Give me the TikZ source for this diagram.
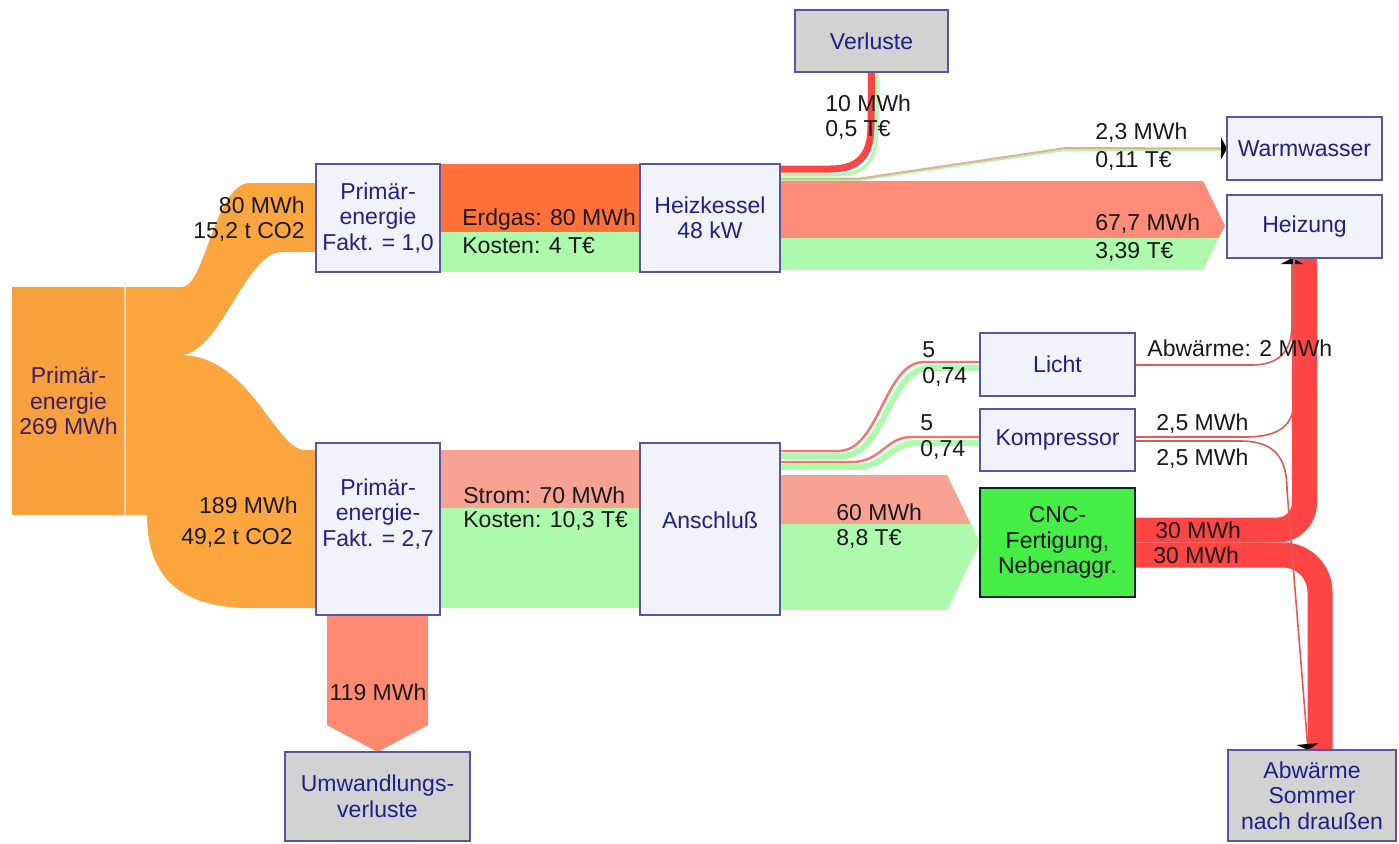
\documentclass[tikz,border=0pt]{standalone}
\usepackage{fontspec}
\setmainfont{Liberation Sans}
\usetikzlibrary{positioning,calc,arrows.meta,backgrounds}

\definecolor{boxfill}{HTML}{F2F2FA}
\definecolor{boxline}{HTML}{5656A2}
\definecolor{boxtext}{HTML}{20208A}
\definecolor{srctext}{HTML}{3E1E5E}
\definecolor{prim}{HTML}{FBA63E}
\definecolor{primbox}{HTML}{F7A03E}
\definecolor{gas}{HTML}{FF703A}
\definecolor{cost}{HTML}{ADFAAD}
\definecolor{strom}{HTML}{F8A294}
\definecolor{heat}{HTML}{FF8C78}
\definecolor{wandel}{HTML}{FF8A72}
\definecolor{hot}{HTML}{FF4444}
\definecolor{abwline}{HTML}{E25A55}
\definecolor{wwline}{HTML}{DDB098}
\definecolor{grau}{HTML}{D2D2D2}
\definecolor{cncgreen}{HTML}{44EE44}

\begin{document}
\begin{tikzpicture}[x=0.5pt, y=-0.5pt, font=\fontsize{11.5}{12.75}\selectfont,
	box/.style={rectangle,draw=boxline,line width=1.2pt,fill=boxfill,text=boxtext,align=center,inner sep=0pt,outer sep=0pt},
	sink/.style={box,fill=grau},
	lab/.style={anchor=west,inner sep=0pt,text=black!90},
	rlab/.style={anchor=east,inner sep=0pt,text=black!90},
	tip/.style={-{Triangle[width=11pt,length=3pt,color=black]}},
	band/.style={hot,line width=12.5pt},
	fine/.style={abwline,line width=0.8pt}]

    \useasboundingbox (0,0) rectangle (1399,843);

    % boxes
    \node (src) at (68.5,401) [rectangle,fill=primbox,inner sep=0pt,outer sep=0pt,minimum width=56.5pt,minimum height=114pt,align=center,text=srctext] {Primär-\\energie\\269 MWh};
    \node (pe1) at (378,218) [box,minimum width=62pt,minimum height=54pt] {Primär-\\energie\\Fakt. = 1,0};
    \node (pe2) at (378,529) [box,minimum width=62pt,minimum height=86pt] {};
    \node at ($(pe2.center)+(0,-15)$) [align=center,text=boxtext,inner sep=0pt] {Primär-\\energie-\\Fakt. = 2,7};
    \node (heiz) at (710,218) [box,minimum width=70pt,minimum height=54pt] {Heizkessel\\48 kW};
    \node (ansch) at (710,529) [box,minimum width=70pt,minimum height=86pt] {};
    \node at ($(ansch.center)+(0,-9)$) [text=boxtext,inner sep=0pt] {Anschluß};
    \node (verl) at (871.5,41) [sink,minimum width=76.5pt,minimum height=31pt] {Verluste};
    \node (warm) at (1304.5,148.5) [box,minimum width=77.5pt,minimum height=31.5pt] {Warmwasser};
    \node (heizung) at (1304.5,226.5) [box,minimum width=77.5pt,minimum height=31.5pt] {Heizung};
    \node (licht) at (1057.5,364.5) [box,minimum width=77.5pt,minimum height=31.5pt] {Licht};
    \node (komp) at (1057.5,440) [box,minimum width=77.5pt,minimum height=31pt] {Kompressor};
    \node (cnc) at (1057.5,542.5) [box,fill=cncgreen,draw=black!70!teal,text=black!85!teal,minimum width=77.5pt,minimum height=54.5pt] {CNC-\\Fertigung,\\Nebenaggr.};
    \node (umw) at (377.5,796.5) [sink,minimum width=92.5pt,minimum height=44.5pt] {Umwandlungs-\\verluste};
    \node (abw) at (1312,795.5) [sink,minimum width=84pt,minimum height=45.5pt] {Abwärme\\Sommer\\nach draußen};
    \draw [white!55!prim,line width=0.6pt] (src.north east) -- (src.south east);

    \begin{scope}[on background layer]
    % Primaerenergie
    \fill [prim] (src.north east) -- (182,287) .. controls (205,287) and (215,183) .. (250,183) -- (pe1.west |- 0,183)
    	-- (pe1.west |- 0,252) -- (282,252) .. controls (245,252) and (220,355) .. (180,355) -- (src.east |- 0,355) -- cycle;
    \fill [prim] (src.east |- 0,355) -- (180,355) .. controls (250,355) and (275,450) .. (305,450) -- (pe2.west |- 0,450)
    	-- (pe2.west |- 0,608) -- (250,608) .. controls (175,608) and (147,572) .. (147,515) -- (src.south east) -- cycle;

    % Erdgas, Strom
    \fill [gas] (pe1.north east) rectangle (heiz.west |- 0,232);
    \fill [cost] (pe1.east |- 0,232) rectangle (heiz.south west);
    \fill [strom] (pe2.east |- 0,450) rectangle (ansch.west |- 0,508);
    \fill [cost] (pe2.east |- 0,508) rectangle (ansch.west |- 0,608);
    \fill [wandel] ($(pe2.south)+(-51,0)$) -- ($(pe2.south)+(50,0)$) -- ($(pe2.south)+(50,110)$) -- (umw.north) -- ($(pe2.south)+(-51,110)$) -- cycle;

    % Heizkessel
    \fill [heat] (heiz.east |- 0,181) -- (1203,181) -- (1225,225.5) -- (1218.8,238) -- (heiz.east |- 0,238) -- cycle;
    \fill [cost] (heiz.east |- 0,238) -- (1218.8,238) -- (1203,270) -- (heiz.east |- 0,270) -- cycle;
    \draw [cost,line width=1.5pt] (heiz.east |- 0,175) -- (835,175) .. controls (868,175) and (877,158) .. (877,128) -- (verl.south -| 877,0);
    \draw [hot,line width=3.5pt] (heiz.east |- 0,169) -- (830,169) .. controls (862,169) and (871,152) .. (871,125) -- (verl.south);
    \draw [cost,line width=0.8pt] (heiz.east |- 0,180) -- (860,180) -- (1066,150) -- (warm.west |- 0,150);
    \draw [wwline,line width=1pt,tip] (heiz.east |- 0,178.5) -- (860,178.5) -- (1066,148) -- (warm.west);

    % Anschluss
    \draw [cost,line width=3pt] (ansch.east |- 0,456) -- (842,456) .. controls (885,456) and (889,368) .. (929,368) -- (licht.west |- 0,368);
    \draw [strom!70!red,line width=1.2pt] (ansch.east |- 0,451) -- (838,451) .. controls (880,451) and (884,362) .. (924,362) -- (licht.west |- 0,362);
    \draw [cost,line width=3pt] (ansch.east |- 0,467) -- (856,467) .. controls (886,467) and (891,443) .. (916,443) -- (komp.west |- 0,443);
    \draw [strom!70!red,line width=1.2pt] (ansch.east |- 0,462) -- (852,462) .. controls (881,462) and (886,437) .. (911,437) -- (komp.west |- 0,437);
    \fill [strom] (ansch.east |- 0,475) -- (947,475) -- (970.8,524) -- (ansch.east |- 0,524) -- cycle;
    \fill [cost] (ansch.east |- 0,524) -- (970.8,524) -- (cnc.west) -- (947,610) -- (ansch.east |- 0,610) -- cycle;

    % Abwaerme
    \draw [band,rounded corners=13.5pt] (cnc.east |- 0,530) -| (heizung.south -| 1304.5,0);
    \draw [band,rounded corners=18.5pt] (cnc.east |- 0,555) -| (abw.north -| 1320,0);
    \draw [fine,tip] (licht.east |- 0,365) -- (1252,365) .. controls (1280,365) and (1292,350) .. (1292,325) -- (heizung.south -| 1292,0);
    \draw [fine] (komp.east |- 0,437) -- (1245,437) .. controls (1280,437) and (1294,425) .. (1294,400) -- (heizung.south -| 1294,0);
    \draw [fine,tip] (komp.east |- 0,441) -- (1240,441) .. controls (1275,441) and (1287,458) .. (1287,490) -- (abw.north -| 1308,0);
    \end{scope}

    % labels
    \node (l80) at (305,205) [rlab] {80 MWh};
    \node (lco1) at (305,232) [rlab] {15,2 t CO2};
    \node (l189) at (298,505) [rlab] {189 MWh};
    \node (lco2) at (293,538) [rlab] {49,2 t CO2};
    \node (lgas) at (462,220) [lab] {Erdgas: 80 MWh};
    \node (lgasK) at (462,246) [lab] {Kosten: 4 T€};
    \node (lverl) at (825,103) [lab] {10 MWh};
    \node (lverlK) at (825,130) [lab] {0,5 T€};
    \node (lww) at (1095,133) [lab] {2,3 MWh};
    \node (lwwK) at (1095,161) [lab] {0,11 T€};
    \node (lhz) at (1095,224) [lab] {67,7 MWh};
    \node (lhzK) at (1095,252) [lab] {3,39 T€};
    \node (lstrom) at (463,495) [lab] {Strom: 70 MWh};
    \node (lstromK) at (463,521) [lab] {Kosten: 10,3 T€};
    \node (lcnc) at (836,512) [lab] {60 MWh};
    \node (lcncK) at (836,539) [lab] {8,8 T€};
    \node (llicht) at (922,350) [lab] {5};
    \node (llichtK) at (922,377) [lab] {0,74};
    \node (lkomp) at (920,423) [lab] {5};
    \node (lkompK) at (920,450) [lab] {0,74};
    \node (labw) at (1147,348) [lab] {Abwärme: 2 MWh};
    \node (lkomp1) at (1156,424) [lab] {2,5 MWh};
    \node (lkomp2) at (1156,459) [lab] {2,5 MWh};
    \node (lcnc1) at (1155,530) [lab] {30 MWh};
    \node (lcnc2) at (1153,555) [lab] {30 MWh};
    \node (lumw) at (378,692) [inner sep=0pt,text=black!90] {119 MWh};

\end{tikzpicture}
\end{document}
